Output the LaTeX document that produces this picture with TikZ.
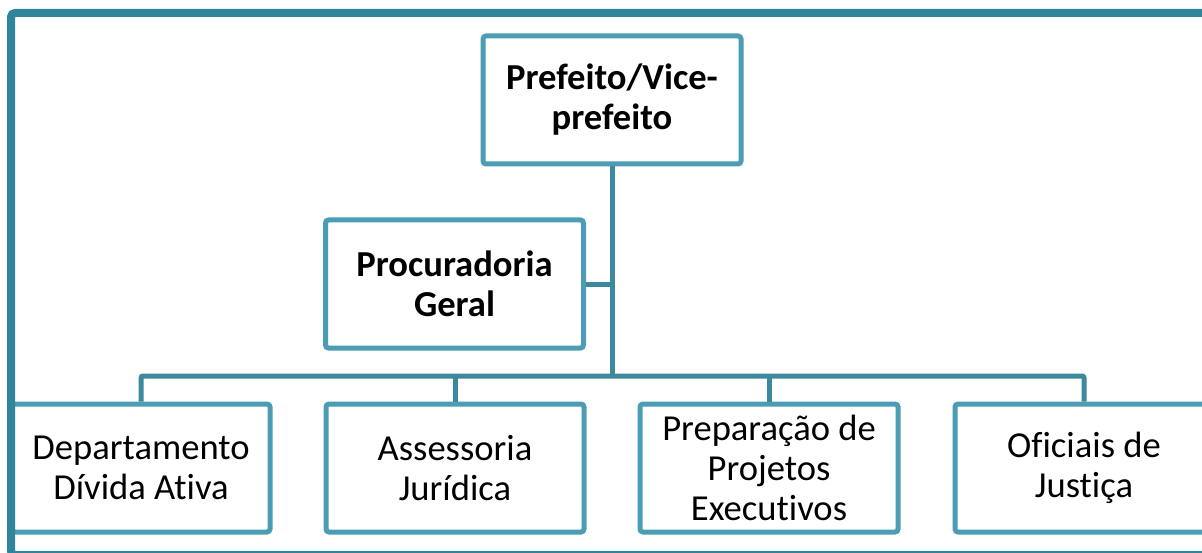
\documentclass[tikz,border=0pt]{standalone}
\usepackage{fontspec}
\setmainfont{Carlito}[Ligatures={NoCommon}]
\usepackage{xcolor}
\definecolor{boxteal}{RGB}{75,156,180}
\definecolor{lineteal}{RGB}{60,137,157}
\definecolor{frameteal}{RGB}{47,133,156}
\tikzset{
    orgbox/.style={
    draw=boxteal,
    line width=2.5pt,
    fill=white,
    rounded corners=1.5pt,
    minimum width=129pt,
    minimum height=64pt,
    inner sep=0pt,
    align=center,
    font=\fontsize{18.3pt}{20pt}\selectfont
    },
    orghead/.style={orgbox,font=\fontsize{18.3pt}{20pt}\selectfont\bfseries},
    orglink/.style={draw=lineteal,line width=2.5pt,rounded corners=1pt}
}
\begin{document}
\begin{tikzpicture}[x=0.5pt,y=0.5pt]
\useasboundingbox (0,0) rectangle (1202,552);
\clip (0,0) rectangle (1202,552);
\coordinate (bar) at (612,176);
\node[orghead] (pref) at (612,452) {Prefeito/Vice-\\prefeito};
\node[orghead] (proc) at (454.5,268) {Procuradoria\\Geral};
\node[orgbox] (divida) at (141,84) {Departamento\\Dívida Ativa};
\node[orgbox] (assess) at (455,84) {Assessoria\\Jurídica};
\node[orgbox] (projetos) at (769,84) {Preparação de\\Projetos\\Executivos};
\node[orgbox] (oficiais) at (1084,84) {Oficiais de\\Justiça};
\draw[orglink] (pref.south) -- (bar);
\draw[orglink] (proc.east) -- (proc.east -| bar);
\draw[orglink] (divida.north) |- (oficiais.north |- bar) -- (oficiais.north);
\draw[orglink] (assess.north) -- (assess.north |- bar);
\draw[orglink] (projetos.north) -- (projetos.north |- bar);
% outer frame, cut by the page on the right and bottom
\draw[frameteal,line width=4pt,rounded corners=2pt] (11,-3) rectangle (1215,539);
\end{tikzpicture}
\end{document}
